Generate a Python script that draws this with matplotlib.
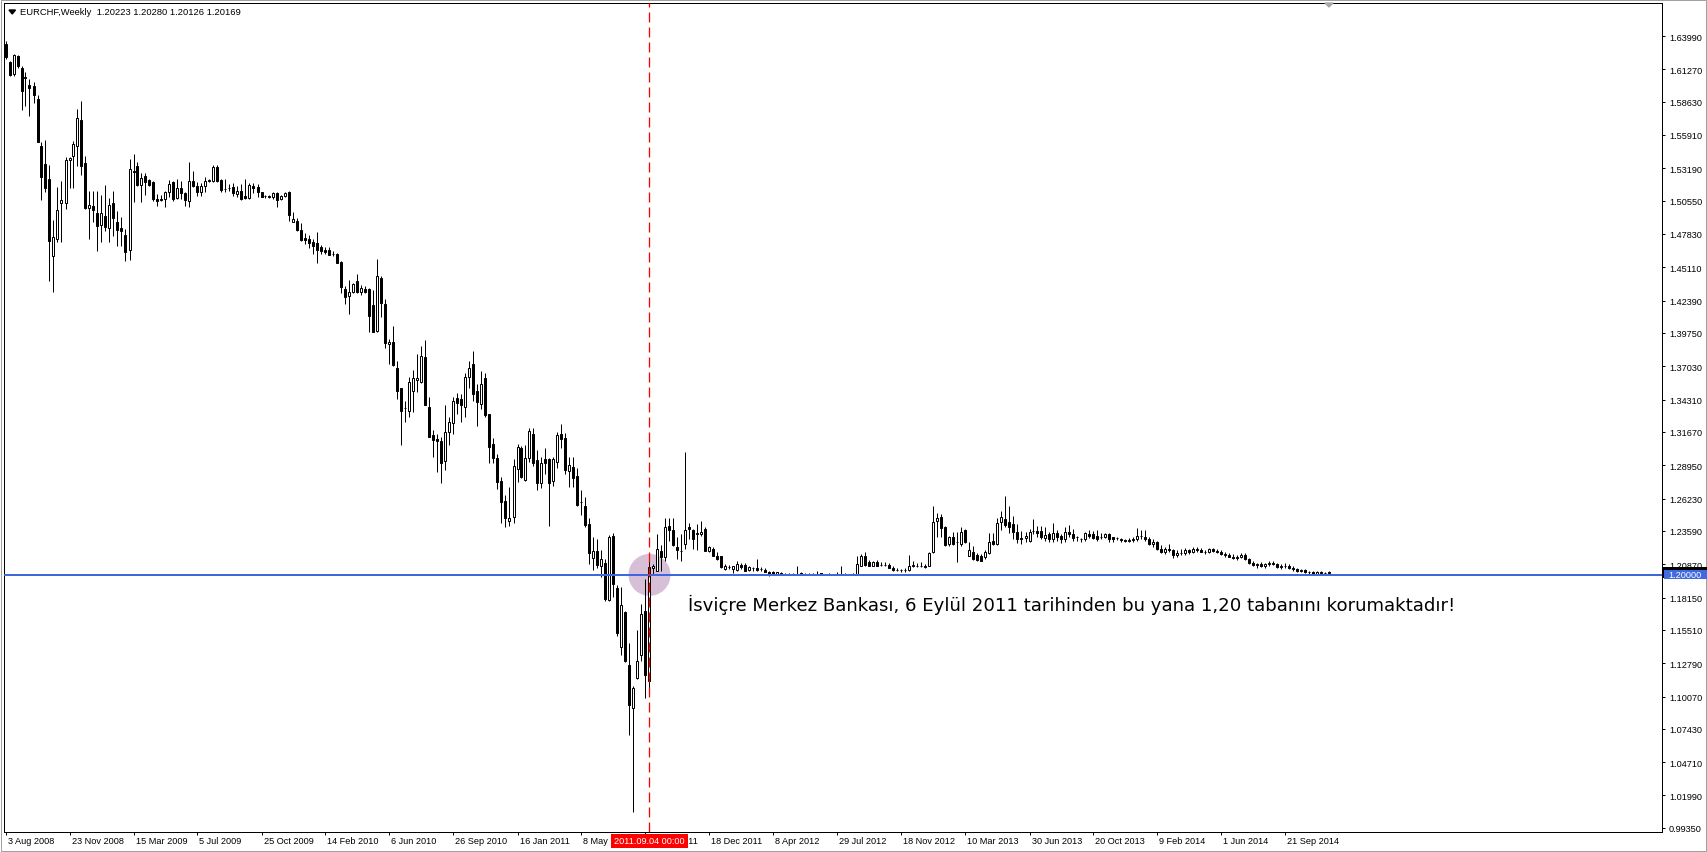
import matplotlib
matplotlib.use("Agg")
import matplotlib.pyplot as plt
import numpy as np
from matplotlib.patches import Rectangle, Polygon
from matplotlib.transforms import IdentityTransform

# ---------------- data ----------------
symbol = "EURCHF,Weekly"
last_ohlc = ["1.20223", "1.20280", "1.20126", "1.20169"]

opens = [
    1.6334, 1.6189, 1.6089, 1.6238, 1.6138, 1.6062, 1.6000, 1.5988, 1.5885, 1.5504,
    1.5354, 1.5232, 1.4606, 1.4742, 1.5033, 1.5033, 1.5387, 1.5417, 1.5504, 1.5716,
    1.5363, 1.4995, 1.5009, 1.4954, 1.4857, 1.4927, 1.4829, 1.5036, 1.4884, 1.4832,
    1.4775, 1.4655, 1.5300, 1.5340, 1.5186, 1.5259, 1.5227, 1.5210, 1.5069, 1.5069,
    1.5069, 1.5123, 1.5205, 1.5074, 1.5156, 1.5115, 1.5050, 1.5213, 1.5178, 1.5123,
    1.5178, 1.5218, 1.5218, 1.5327, 1.5227, 1.5150, 1.5156, 1.5164, 1.5110, 1.5137,
    1.5096, 1.5074, 1.5178, 1.5170, 1.5123, 1.5090, 1.5090, 1.5082, 1.5118, 1.5069,
    1.5096, 1.5123, 1.4884, 1.4890, 1.4816, 1.4750, 1.4742, 1.4718, 1.4706, 1.4676,
    1.4653, 1.4653, 1.4623, 1.4623, 1.4558, 1.4332, 1.4276, 1.4306, 1.4395, 1.4311,
    1.4332, 1.4335, 1.4207, 1.3994, 1.4424, 1.4208, 1.3887, 1.3905, 1.3688, 1.3525,
    1.3362, 1.3338, 1.3504, 1.3593, 1.3575, 1.3777, 1.3371, 1.3139, 1.3109, 1.3089,
    1.2931, 1.3169, 1.3243, 1.3445, 1.3436, 1.3370, 1.3614, 1.3724, 1.3504, 1.3397,
    1.3608, 1.3311, 1.3065, 1.2955, 1.2768, 1.2599, 1.2442, 1.2471, 1.2866, 1.3035,
    1.2774, 1.2955, 1.3154, 1.2940, 1.2747, 1.2946, 1.2946, 1.2768, 1.2922, 1.3154,
    1.3118, 1.2851, 1.2881, 1.2807, 1.2596, 1.2566, 1.2412, 1.2139, 1.2195, 1.2071,
    1.2100, 1.1795, 1.2314, 1.1891, 1.1409, 1.1695, 1.1265, 1.0911, 1.1159, 1.1346,
    1.1708, 1.1137, 1.2054, 1.2034, 1.2198, 1.2143, 1.2396, 1.2366, 1.2231, 1.2198,
    1.2252, 1.2388, 1.2366, 1.2334, 1.2334, 1.2375, 1.2198, 1.2212, 1.2157, 1.2152,
    1.2048, 1.2068, 1.2048, 1.2043, 1.2081, 1.2084, 1.2043, 1.2053, 1.2053, 1.2048,
    1.2043, 1.2026, 1.2021, 1.2005, 1.2016, 1.2007, 1.2007, 1.2005, 1.2007, 1.2013,
    1.2004, 1.2006, 1.2005, 1.2006, 1.2013, 1.2004, 1.2004, 1.2005, 1.2006, 1.2007,
    1.2005, 1.2004, 1.2005, 1.2002, 1.2075, 1.2157, 1.2103, 1.2075, 1.2103, 1.2084,
    1.2084, 1.2084, 1.2056, 1.2043, 1.2040, 1.2040, 1.2043, 1.2070, 1.2075, 1.2075,
    1.2075, 1.2075, 1.2184, 1.2438, 1.2470, 1.2394, 1.2252, 1.2307, 1.2272, 1.2252,
    1.2366, 1.2157, 1.2190, 1.2162, 1.2157, 1.2143, 1.2179, 1.2274, 1.2252, 1.2429,
    1.2456, 1.2429, 1.2415, 1.2347, 1.2300, 1.2300, 1.2280, 1.2355, 1.2361, 1.2361,
    1.2301, 1.2334, 1.2292, 1.2342, 1.2320, 1.2292, 1.2353, 1.2334, 1.2306, 1.2290,
    1.2292, 1.2334, 1.2334, 1.2314, 1.2306, 1.2312, 1.2334, 1.2306, 1.2300, 1.2290,
    1.2285, 1.2280, 1.2285, 1.2292, 1.2315, 1.2306, 1.2292, 1.2255, 1.2270, 1.2215,
    1.2190, 1.2215, 1.2200, 1.2160, 1.2180, 1.2175, 1.2205, 1.2185, 1.2215, 1.2200,
    1.2190, 1.2185, 1.2210, 1.2195, 1.2190, 1.2170, 1.2160, 1.2150, 1.2140, 1.2150,
    1.2165, 1.2130, 1.2095, 1.2080, 1.2090, 1.2075, 1.2085, 1.2100, 1.2090, 1.2065,
    1.2075, 1.2070, 1.2060, 1.2045, 1.2030, 1.2040, 1.2020, 1.2025, 1.2010, 1.2020,
    1.2012, 1.20223,
]

highs = [
    1.6360, 1.6195, 1.6250, 1.6245, 1.6157, 1.6102, 1.6048, 1.6020, 1.5917, 1.5531,
    1.5550, 1.5346, 1.4897, 1.5164, 1.5213, 1.5414, 1.5410, 1.5545, 1.5803, 1.5871,
    1.5422, 1.5131, 1.5131, 1.5131, 1.5104, 1.5186, 1.5074, 1.5137, 1.4974, 1.4919,
    1.4824, 1.5395, 1.5436, 1.5368, 1.5281, 1.5281, 1.5232, 1.5218, 1.5110, 1.5104,
    1.5137, 1.5224, 1.5218, 1.5232, 1.5218, 1.5123, 1.5368, 1.5300, 1.5205, 1.5199,
    1.5245, 1.5232, 1.5346, 1.5346, 1.5232, 1.5232, 1.5191, 1.5199, 1.5178, 1.5191,
    1.5232, 1.5199, 1.5199, 1.5191, 1.5128, 1.5104, 1.5104, 1.5128, 1.5123, 1.5104,
    1.5123, 1.5137, 1.4961, 1.4913, 1.4875, 1.4792, 1.4771, 1.4742, 1.4795, 1.4691,
    1.4674, 1.4674, 1.4644, 1.4629, 1.4564, 1.4362, 1.4406, 1.4386, 1.4454, 1.4365,
    1.4356, 1.4341, 1.4326, 1.4579, 1.4436, 1.4252, 1.3925, 1.4030, 1.3747, 1.3525,
    1.3421, 1.3614, 1.3673, 1.3807, 1.3866, 1.3917, 1.3450, 1.3184, 1.3154, 1.3124,
    1.3385, 1.3287, 1.3450, 1.3486, 1.3480, 1.3652, 1.3742, 1.3831, 1.3555, 1.3664,
    1.3644, 1.3317, 1.3118, 1.2990, 1.2797, 1.2650, 1.2715, 1.2946, 1.3065, 1.3050,
    1.3059, 1.3198, 1.3198, 1.3021, 1.2961, 1.3035, 1.2952, 1.2961, 1.3169, 1.3234,
    1.3160, 1.2960, 1.2960, 1.2872, 1.2690, 1.2634, 1.2462, 1.2308, 1.2293, 1.2204,
    1.2130, 1.2329, 1.2342, 1.1918, 1.1900, 1.1708, 1.1444, 1.1090, 1.1553, 1.1763,
    1.1967, 1.2170, 1.2089, 1.2334, 1.2244, 1.2462, 1.2462, 1.2462, 1.2307, 1.2334,
    1.3000, 1.2423, 1.2375, 1.2415, 1.2443, 1.2388, 1.2238, 1.2225, 1.2190, 1.2157,
    1.2089, 1.2081, 1.2075, 1.2116, 1.2097, 1.2097, 1.2075, 1.2065, 1.2129, 1.2065,
    1.2056, 1.2035, 1.2035, 1.2026, 1.2021, 1.2015, 1.2013, 1.2012, 1.2075, 1.2024,
    1.2012, 1.2015, 1.2012, 1.2029, 1.2018, 1.2010, 1.2012, 1.2011, 1.2021, 1.2075,
    1.2012, 1.2010, 1.2012, 1.2157, 1.2170, 1.2184, 1.2124, 1.2116, 1.2124, 1.2103,
    1.2103, 1.2097, 1.2075, 1.2056, 1.2048, 1.2053, 1.2162, 1.2116, 1.2097, 1.2103,
    1.2089, 1.2190, 1.2560, 1.2505, 1.2497, 1.2402, 1.2320, 1.2347, 1.2347, 1.2388,
    1.2375, 1.2266, 1.2238, 1.2176, 1.2170, 1.2206, 1.2342, 1.2342, 1.2462, 1.2524,
    1.2646, 1.2565, 1.2483, 1.2415, 1.2361, 1.2353, 1.2374, 1.2456, 1.2396, 1.2396,
    1.2388, 1.2353, 1.2424, 1.2369, 1.2330, 1.2388, 1.2407, 1.2374, 1.2320, 1.2300,
    1.2347, 1.2369, 1.2361, 1.2369, 1.2342, 1.2342, 1.2340, 1.2310, 1.2310, 1.2300,
    1.2295, 1.2300, 1.2310, 1.2380, 1.2369, 1.2369, 1.2310, 1.2290, 1.2280, 1.2240,
    1.2230, 1.2250, 1.2215, 1.2200, 1.2210, 1.2220, 1.2215, 1.2230, 1.2225, 1.2220,
    1.2205, 1.2220, 1.2220, 1.2210, 1.2200, 1.2185, 1.2180, 1.2170, 1.2160, 1.2180,
    1.2175, 1.2140, 1.2110, 1.2100, 1.2105, 1.2095, 1.2110, 1.2115, 1.2100, 1.2085,
    1.2095, 1.2090, 1.2075, 1.2060, 1.2050, 1.2045, 1.2035, 1.2030, 1.2030, 1.2030,
    1.2025, 1.20280,
]

lows = [
    1.6211, 1.6070, 1.6070, 1.6140, 1.5798, 1.5830, 1.5743, 1.5850, 1.5530, 1.5063,
    1.5123, 1.4402, 1.4307, 1.4715, 1.4715, 1.4987, 1.5156, 1.5156, 1.5341, 1.5267,
    1.4987, 1.4742, 1.4878, 1.4647, 1.4715, 1.4810, 1.4715, 1.4770, 1.4688, 1.4688,
    1.4566, 1.4574, 1.5042, 1.5178, 1.5047, 1.5104, 1.5178, 1.5055, 1.5014, 1.5055,
    1.5001, 1.5082, 1.5055, 1.5069, 1.5069, 1.5014, 1.5001, 1.5164, 1.5096, 1.5096,
    1.5128, 1.5205, 1.5205, 1.5205, 1.5123, 1.5128, 1.5137, 1.5096, 1.5082, 1.5063,
    1.5069, 1.5069, 1.5118, 1.5082, 1.5082, 1.5077, 1.5077, 1.5069, 1.5001, 1.5063,
    1.5082, 1.4892, 1.4878, 1.4810, 1.4727, 1.4703, 1.4668, 1.4623, 1.4543, 1.4623,
    1.4623, 1.4608, 1.4602, 1.4549, 1.4297, 1.4213, 1.4133, 1.4297, 1.4297, 1.4282,
    1.4297, 1.3985, 1.3985, 1.3985, 1.4104, 1.3851, 1.3724, 1.3703, 1.3436, 1.3059,
    1.3249, 1.3287, 1.3332, 1.3495, 1.3563, 1.3385, 1.3124, 1.2961, 1.2842, 1.2753,
    1.2857, 1.3059, 1.3154, 1.3317, 1.3252, 1.3287, 1.3525, 1.3420, 1.3219, 1.3356,
    1.3287, 1.2916, 1.2916, 1.2703, 1.2427, 1.2388, 1.2397, 1.2420, 1.2762, 1.2792,
    1.2768, 1.2922, 1.2887, 1.2694, 1.2709, 1.2827, 1.2397, 1.2723, 1.2872, 1.3035,
    1.2827, 1.2714, 1.2714, 1.2560, 1.2486, 1.2389, 1.2091, 1.2041, 1.2056, 1.1982,
    1.1789, 1.1789, 1.1817, 1.1504, 1.1350, 1.1292, 1.0693, 1.0064, 1.1150, 1.1300,
    1.0993, 1.1009, 1.2008, 1.2030, 1.2034, 1.2116, 1.2280, 1.2238, 1.2130, 1.2116,
    1.2211, 1.2293, 1.2211, 1.2206, 1.2315, 1.2192, 1.2190, 1.2152, 1.2124, 1.2054,
    1.2043, 1.2048, 1.2016, 1.2035, 1.2048, 1.2029, 1.2035, 1.2035, 1.2035, 1.2035,
    1.2021, 1.1994, 1.2000, 1.2000, 1.1999, 1.2000, 1.2001, 1.2000, 1.2000, 1.2000,
    1.2000, 1.2000, 1.2000, 1.2000, 1.2000, 1.2000, 1.2000, 1.2000, 1.2000, 1.2000,
    1.2000, 1.2000, 1.2000, 1.2000, 1.2070, 1.2070, 1.2070, 1.2070, 1.2070, 1.2070,
    1.2070, 1.2053, 1.2035, 1.2035, 1.2026, 1.2021, 1.2035, 1.2062, 1.2062, 1.2062,
    1.2056, 1.2070, 1.2179, 1.2306, 1.2306, 1.2238, 1.2238, 1.2244, 1.2108, 1.2233,
    1.2260, 1.2157, 1.2124, 1.2116, 1.2110, 1.2130, 1.2170, 1.2244, 1.2244, 1.2369,
    1.2390, 1.2340, 1.2290, 1.2260, 1.2250, 1.2270, 1.2270, 1.2330, 1.2310, 1.2290,
    1.2280, 1.2270, 1.2270, 1.2280, 1.2260, 1.2270, 1.2310, 1.2280, 1.2280, 1.2270,
    1.2280, 1.2300, 1.2290, 1.2280, 1.2290, 1.2300, 1.2270, 1.2270, 1.2285, 1.2270,
    1.2265, 1.2265, 1.2270, 1.2280, 1.2290, 1.2280, 1.2240, 1.2230, 1.2200, 1.2175,
    1.2170, 1.2190, 1.2140, 1.2150, 1.2160, 1.2165, 1.2170, 1.2180, 1.2190, 1.2185,
    1.2170, 1.2175, 1.2190, 1.2180, 1.2160, 1.2150, 1.2145, 1.2130, 1.2125, 1.2140,
    1.2120, 1.2085, 1.2070, 1.2060, 1.2065, 1.2060, 1.2075, 1.2080, 1.2055, 1.2050,
    1.2060, 1.2050, 1.2035, 1.2020, 1.2020, 1.2015, 1.2010, 1.2005, 1.2005, 1.2005,
    1.2005, 1.20126,
]

closes = [
    1.6225, 1.6083, 1.6244, 1.6151, 1.5947, 1.6060, 1.5977, 1.5920, 1.5537, 1.5251,
    1.5159, 1.4723, 1.4756, 1.4979, 1.5061, 1.5387, 1.5403, 1.5518, 1.5730, 1.5335,
    1.4995, 1.5020, 1.4979, 1.4851, 1.4954, 1.4838, 1.5020, 1.4914, 1.4816, 1.4810,
    1.4639, 1.5314, 1.5286, 1.5186, 1.5237, 1.5210, 1.5186, 1.5069, 1.5055, 1.5063,
    1.5123, 1.5191, 1.5069, 1.5156, 1.5115, 1.5061, 1.5218, 1.5178, 1.5123, 1.5178,
    1.5218, 1.5222, 1.5327, 1.5218, 1.5145, 1.5150, 1.5158, 1.5115, 1.5137, 1.5069,
    1.5074, 1.5186, 1.5156, 1.5129, 1.5088, 1.5090, 1.5088, 1.5118, 1.5063, 1.5096,
    1.5115, 1.4938, 1.4905, 1.4816, 1.4736, 1.4733, 1.4712, 1.4688, 1.4653, 1.4644,
    1.4632, 1.4614, 1.4620, 1.4549, 1.4347, 1.4267, 1.4311, 1.4371, 1.4311, 1.4341,
    1.4311, 1.4110, 1.3985, 1.4439, 1.4217, 1.3896, 1.3905, 1.3712, 1.3504, 1.3341,
    1.3364, 1.3575, 1.3605, 1.3608, 1.3783, 1.3385, 1.3124, 1.3101, 1.3094, 1.2916,
    1.3163, 1.3252, 1.3420, 1.3406, 1.3385, 1.3614, 1.3688, 1.3480, 1.3412, 1.3555,
    1.3308, 1.3044, 1.2955, 1.2762, 1.2599, 1.2465, 1.2465, 1.2887, 1.3044, 1.2798,
    1.2955, 1.3175, 1.2916, 1.2753, 1.2916, 1.2910, 1.2753, 1.2946, 1.3145, 1.3109,
    1.2857, 1.2896, 1.2792, 1.2570, 1.2596, 1.2406, 1.2180, 1.2195, 1.2080, 1.2130,
    1.1803, 1.2308, 1.1922, 1.1526, 1.1754, 1.1300, 1.0938, 1.1077, 1.1300, 1.1681,
    1.1186, 1.2062, 1.2075, 1.2211, 1.2143, 1.2388, 1.2369, 1.2244, 1.2203, 1.2198,
    1.2366, 1.2375, 1.2293, 1.2339, 1.2347, 1.2198, 1.2225, 1.2157, 1.2130, 1.2062,
    1.2075, 1.2066, 1.2075, 1.2089, 1.2062, 1.2034, 1.2062, 1.2053, 1.2043, 1.2048,
    1.2026, 1.1999, 1.2007, 1.2021, 1.2002, 1.2007, 1.2005, 1.2007, 1.2008, 1.2002,
    1.2005, 1.2007, 1.2004, 1.2007, 1.2002, 1.2004, 1.2005, 1.2004, 1.2007, 1.2006,
    1.2004, 1.2005, 1.2005, 1.2090, 1.2157, 1.2081, 1.2070, 1.2103, 1.2075, 1.2084,
    1.2083, 1.2056, 1.2043, 1.2043, 1.2040, 1.2040, 1.2075, 1.2081, 1.2075, 1.2075,
    1.2062, 1.2179, 1.2429, 1.2464, 1.2380, 1.2244, 1.2307, 1.2252, 1.2270, 1.2347,
    1.2266, 1.2203, 1.2130, 1.2124, 1.2116, 1.2184, 1.2266, 1.2252, 1.2424, 1.2470,
    1.2410, 1.2393, 1.2347, 1.2290, 1.2290, 1.2320, 1.2347, 1.2355, 1.2342, 1.2306,
    1.2328, 1.2292, 1.2339, 1.2306, 1.2292, 1.2347, 1.2334, 1.2301, 1.2306, 1.2290,
    1.2342, 1.2315, 1.2301, 1.2292, 1.2306, 1.2334, 1.2292, 1.2292, 1.2300, 1.2285,
    1.2280, 1.2285, 1.2292, 1.2320, 1.2315, 1.2292, 1.2255, 1.2270, 1.2215, 1.2190,
    1.2215, 1.2200, 1.2160, 1.2180, 1.2175, 1.2205, 1.2185, 1.2215, 1.2200, 1.2190,
    1.2185, 1.2210, 1.2195, 1.2190, 1.2170, 1.2160, 1.2150, 1.2140, 1.2150, 1.2165,
    1.2130, 1.2095, 1.2080, 1.2090, 1.2075, 1.2085, 1.2100, 1.2090, 1.2065, 1.2075,
    1.2070, 1.2060, 1.2045, 1.2030, 1.2040, 1.2020, 1.2025, 1.2010, 1.2020, 1.2012,
    1.2015, 1.20169,
]

tick_labels = ["3 Aug 2008", "23 Nov 2008", "15 Mar 2009", "5 Jul 2009", "25 Oct 2009",
               "14 Feb 2010", "6 Jun 2010", "26 Sep 2010", "16 Jan 2011", "8 May 2011",
               "28 Aug 2011", "18 Dec 2011", "8 Apr 2012", "29 Jul 2012", "18 Nov 2012",
               "10 Mar 2013", "30 Jun 2013", "20 Oct 2013", "9 Feb 2014", "1 Jun 2014",
               "21 Sep 2014"]
tick_weeks = [0, 16, 32, 48, 64, 80, 96, 112, 128, 144, 160, 176, 192, 208, 224,
              240, 256, 272, 288, 304, 320]

ytick_values = [1.63990, 1.61270, 1.58630, 1.55910, 1.53190, 1.50550, 1.47830, 1.45110,
                1.42390, 1.39750, 1.37030, 1.34310, 1.31670, 1.28950, 1.26230, 1.23590,
                1.20870, 1.18150, 1.15510, 1.12790, 1.10070, 1.07430, 1.04710, 1.01990,
                0.99350]

floor_level = 1.20000
event_week = 161
event_label = "2011.09.04 00:00"
annotation = "İsviçre Merkez Bankası, 6 Eylül 2011 tarihinden bu yana 1,20 tabanını korumaktadır!"

# ---------------- layout ----------------
plt.rcParams['font.family'] = ['Liberation Sans', 'DejaVu Sans']
plt.rcParams['lines.scale_dashes'] = False

W, H, DPI = 1707, 853, 100
PX = 72.0 / DPI
fig = plt.figure(figsize=(W / DPI, H / DPI), dpi=DPI)
fig.patch.set_facecolor('white')

AX_L, AX_R, AX_T, AX_B = 4, 1662, 4, 833
ax = fig.add_axes([AX_L / W, (H - AX_B) / H, (AX_R - AX_L) / W, (AX_B - AX_T) / H])
ax.set_facecolor('white')

BAR_PX = 4.0
ax.set_xlim(-0.375, -0.375 + (AX_R - AX_L) / BAR_PX)
PX_PER_UNIT = 1225.0
ax.set_ylim(1.63990 - (AX_B - 37) / PX_PER_UNIT, 1.63990 + (37 - AX_T) / PX_PER_UNIT)

o = np.array(opens); hi = np.array(highs); lo = np.array(lows); c = np.array(closes)
x = np.arange(len(o))

# purple highlight circle
ax.scatter([event_week], [floor_level], s=(42 * PX) ** 2, color='#D8BFD8',
           edgecolors='none', zorder=1)

# candles
ax.vlines(x, lo, hi, colors='black', linewidth=PX, zorder=2)
up = c >= o
ax.bar(x, np.abs(c - o), bottom=np.minimum(o, c), width=0.5,
       color=np.where(up, 'white', 'black'), edgecolor='black', linewidth=PX, zorder=3)

# floor line and event line
ax.axhline(floor_level, color='#3F68DC', linewidth=2 * PX, zorder=4)
ax.axvline(event_week, color='#FF0000', linewidth=1.3 * PX,
           dashes=(10 * PX, 5 * PX), zorder=5)

for sp in ax.spines.values():
    sp.set_linewidth(PX)
    sp.set_color('black')

# y axis on right
ax.yaxis.tick_right()
ax.set_yticks(ytick_values)
ax.set_yticklabels([f"{v:.5f}" for v in ytick_values])
ax.tick_params(axis='y', which='both', direction='out', length=3 * PX, width=PX,
               pad=4 * PX, labelsize=6.6, colors='black', left=False, right=True)

# x axis ticks
ax.set_xticks(tick_weeks)
ax.set_xticklabels([])
ax.tick_params(axis='x', direction='out', length=3 * PX, width=PX)
for wk, lab in zip(tick_weeks, tick_labels):
    ax.annotate(lab, xy=(wk, 0), xycoords=('data', 'axes fraction'), xytext=(2, -9),
                textcoords='offset pixels', ha='left', va='center', fontsize=6.6,
                annotation_clip=False)

ax.annotate(event_label, xy=(event_week, 0), xycoords=('data', 'axes fraction'),
            xytext=(0, -9), textcoords='offset pixels', ha='center', va='center',
            color='white', fontsize=6.6, annotation_clip=False, zorder=10,
            bbox=dict(boxstyle='square,pad=0.3', fc='#FF0000', ec='none'))

# annotation text
ann = ax.annotate(annotation, xy=(event_week, floor_level), xytext=(39, -29),
                  textcoords='offset pixels', ha='left', va='center', fontsize=12,
                  family=['DejaVu Sans'], color='black', zorder=12)

# title
title = fig.text(20 / W, 1 - 12.5 / H, f"{symbol}  {' '.join(last_ohlc)}",
                 fontsize=7, ha='left', va='center', color='black')
fig.add_artist(Polygon([[9, H - 11], [15.5, H - 11], [12.25, H - 15]], closed=True,
                       transform=IdentityTransform(), color='black'))
# chart shift marker
fig.add_artist(Polygon([[1325, H - 4], [1333, H - 4], [1329, H - 8]], closed=True,
                       transform=IdentityTransform(), color='#A8A8A8', zorder=20))

# outer border
fig.add_artist(Rectangle((0.5, 1.5), W - 2, H - 2, transform=IdentityTransform(),
                         fill=False, edgecolor='#A0A0A0', linewidth=PX))

fig.canvas.draw()
r = fig.canvas.get_renderer()
for t, target in ((ann, 765.0), (title, 219.0)):
    w = t.get_window_extent(r).width
    t.set_fontsize(t.get_fontsize() * target / w)

# price boxes on right axis
y_last = ax.transData.transform((0, c[-1]))[1]
y_floor = ax.transData.transform((0, floor_level))[1]
fig.add_artist(Rectangle((1663, y_last - 5.5), 44, 11, transform=IdentityTransform(),
                         fc='black', ec='none', zorder=30))
fig.add_artist(Rectangle((1664, y_floor - 4.5), 43, 9, transform=IdentityTransform(),
                         fc='#4169E1', ec='none', zorder=31))
fig.text(1685 / W, y_floor / H, f"{floor_level:.5f}", fontsize=6.6, color='white',
         ha='center', va='center', zorder=32)

fig.savefig("out.png", dpi=DPI, facecolor='white')
